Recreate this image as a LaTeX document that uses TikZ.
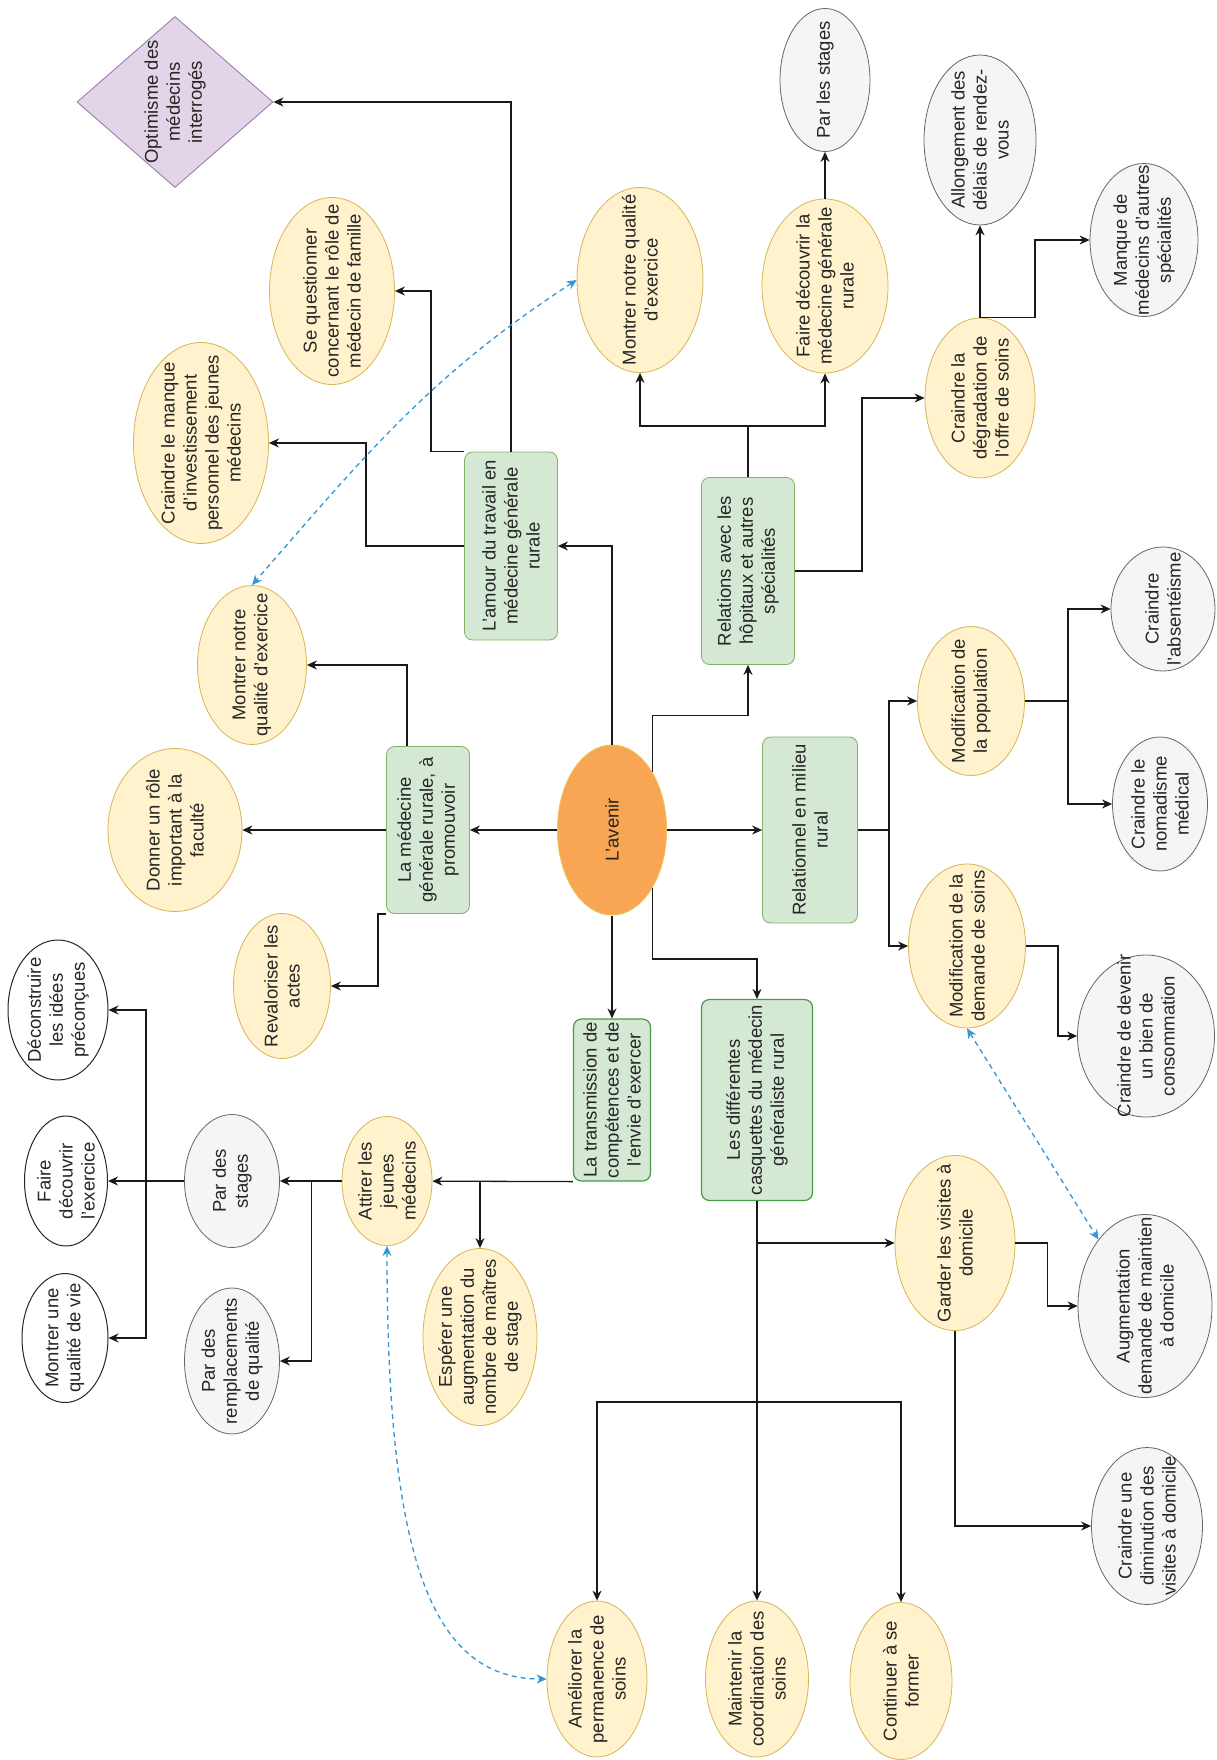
\documentclass[tikz,border=0pt]{standalone}
\usepackage{fontspec}
\setmainfont{Liberation Sans}
\usepackage{tikz}
\usetikzlibrary{shapes.geometric, arrows.meta, calc}
\definecolor{ideafill}{RGB}{255, 242, 204}
\definecolor{idealine}{RGB}{214, 182, 86}
\definecolor{fearfill}{RGB}{245, 245, 245}
\definecolor{fearline}{RGB}{102, 102, 102}
\definecolor{themefill}{RGB}{213, 232, 212}
\definecolor{themeline}{RGB}{130, 179, 102}
\definecolor{themedark}{RGB}{70, 155, 70}
\definecolor{corefill}{RGB}{249, 166, 84}
\definecolor{coreline}{RGB}{238, 190, 90}
\definecolor{moodfill}{RGB}{225, 213, 231}
\definecolor{moodline}{RGB}{150, 115, 166}
\definecolor{linkblue}{RGB}{50, 150, 215}

\begin{document}
\begin{tikzpicture}[x=1pt, y=-1pt,
    idea/.style={draw=idealine, fill=ideafill, ellipse, line width=0.8pt, inner sep=0pt},
    fear/.style={draw=fearline, fill=fearfill, ellipse, line width=0.8pt, inner sep=0pt},
    plain/.style={draw=black!85, fill=white, ellipse, line width=1pt, inner sep=0pt},
    theme/.style={draw=themeline, fill=themefill, rounded corners=8pt, line width=0.8pt, inner sep=0pt},
    themebold/.style={theme, draw=themedark, line width=1.2pt},
    lbl/.style={rotate=90, align=center, inner sep=0pt, text=black!85, font=\fontsize{18.5}{22}\selectfont},
    arr/.style={draw=black!90, line width=1.3pt, -{Stealth[length=10pt, width=9pt]}},
    link/.style={draw=linkblue, line width=1.3pt, dash pattern=on 5pt off 4pt, {Stealth[length=10pt, width=9pt]}-{Stealth[length=10pt, width=9pt]}}]
    \path[fill=white, use as bounding box] (0,0) rectangle (1217,1760);

    % Centre
    \node[draw=coreline, fill=corefill, ellipse, line width=1pt, inner sep=0pt, minimum width=109, minimum height=170] (avenir) at (612,830) {};
    \node[lbl] (avenirt) at (avenir) {L'avenir};

    % Themes
    \node[theme, minimum width=83, minimum height=167] (medecine) at (428,830) {};
    \node[lbl] (medecinet) at (medecine) {La médecine\\générale rurale, à\\promouvoir};
    \node[theme, minimum width=93, minimum height=188] (amour) at (511,546) {};
    \node[lbl] (amourt) at (amour) {L'amour du travail en\\médecine générale\\rurale};
    \node[theme, minimum width=93, minimum height=187] (relations) at (748,571) {};
    \node[lbl] (relationst) at (relations) {Relations avec les\\hôpitaux et autres\\spécialités};
    \node[theme, minimum width=95, minimum height=186] (relationnel) at (810,830) {};
    \node[lbl] (relationnelt) at (relationnel) {Relationnel en milieu\\rural};
    \node[themebold, minimum width=77, minimum height=162] (transmission) at (612,1100) {};
    \node[lbl] (transmissiont) at (transmission) {La transmission de\\compétences et de\\l'envie d'exercer};
    \node[themebold, minimum width=111, minimum height=201] (casquettes) at (757,1100) {};
    \node[lbl] (casquettest) at (casquettes) {Les différentes\\casquettes du médecin\\généraliste rural};

    % Upper left
    \node[draw=moodline, fill=moodfill, diamond, line width=0.8pt, inner sep=0pt, minimum width=196, minimum height=171] (optimisme) at (175,102) {};
    \node[lbl] (optimismet) at (optimisme) {Optimisme des\\médecins\\interrogés};
    \node[idea, minimum width=125, minimum height=187] (sequest) at (332,291) {};
    \node[lbl] (sequestt) at (sequest) {Se questionner\\concernant le rôle de\\médecin de famille};
    \node[idea, minimum width=135, minimum height=201] (manque) at (201,443) {};
    \node[lbl] (manquet) at (manque) {Craindre le manque\\d'investissement\\personnel des jeunes\\médecins};
    \node[idea, minimum width=109, minimum height=159] (qualiteA) at (252,665) {};
    \node[lbl] (qualiteAt) at (qualiteA) {Montrer notre\\qualité d'exercice};
    \node[idea, minimum width=134, minimum height=163] (donner) at (175,830) {};
    \node[lbl] (donnert) at (donner) {Donner un rôle\\important à la\\faculté};
    \node[idea, minimum width=97, minimum height=145] (revalo) at (282,986) {};
    \node[lbl] (revalot) at (revalo) {Revaloriser les\\actes};

    % Upper right
    \node[idea, minimum width=126, minimum height=185] (qualiteB) at (640,280) {};
    \node[lbl] (qualiteBt) at (qualiteB) {Montrer notre qualité\\d'exercice};
    \node[idea, minimum width=126, minimum height=174] (decouvrir) at (825,286) {};
    \node[lbl] (decouvrirt) at (decouvrir) {Faire découvrir la\\médecine générale\\rurale};
    \node[fear, minimum width=90, minimum height=143] (stages) at (825,80) {};
    \node[lbl] (stagest) at (stages) {Par les stages};
    \node[idea, minimum width=110, minimum height=160] (degradation) at (980,398) {};
    \node[lbl] (degradationt) at (degradation) {Craindre la\\dégradation de\\l'offre de soins};
    \node[fear, minimum width=112, minimum height=170] (allongement) at (980,140) {};
    \node[lbl] (allongementt) at (allongement) {Allongement des\\délais de rendez-\\vous};
    \node[fear, minimum width=108, minimum height=153] (manquemed) at (1144,240) {};
    \node[lbl] (manquemedt) at (manquemed) {Manque de\\médecins d'autres\\spécialités};

    % Right
    \node[idea, minimum width=107, minimum height=149] (population) at (971,701) {};
    \node[lbl] (populationt) at (population) {Modification de\\la population};
    \node[idea, minimum width=117, minimum height=164] (demande) at (967,946) {};
    \node[lbl] (demandet) at (demande) {Modification de la\\demande de soins};
    \node[fear, minimum width=104, minimum height=124] (absenteisme) at (1163,609) {};
    \node[lbl] (absenteismet) at (absenteisme) {Craindre\\l'absentéisme};
    \node[fear, minimum width=95, minimum height=134] (nomadisme) at (1160,804) {};
    \node[lbl] (nomadismet) at (nomadisme) {Craindre le\\nomadisme\\médical};
    \node[fear, minimum width=137, minimum height=162] (bien) at (1146,1036) {};
    \node[lbl] (bient) at (bien) {Craindre de devenir\\un bien de\\consommation};

    % Lower left
    \node[plain, minimum width=100, minimum height=140] (deconstruire) at (58,1010) {};
    \node[lbl] (deconstruiret) at (deconstruire) {Déconstruire\\les idées\\préconçues};
    \node[plain, minimum width=83, minimum height=130] (faireex) at (66,1181) {};
    \node[lbl] (faireext) at (faireex) {Faire\\découvrir\\l'exercice};
    \node[plain, minimum width=86, minimum height=129] (qualitevie) at (65,1338) {};
    \node[lbl] (qualitevient) at (qualitevie) {Montrer une\\qualité de vie};
    \node[fear, minimum width=95, minimum height=133] (parstages) at (232,1181) {};
    \node[lbl] (parstagest) at (parstages) {Par des\\stages};
    \node[fear, minimum width=95, minimum height=146] (remplacements) at (232,1361) {};
    \node[lbl] (remplacementst) at (remplacements) {Par des\\remplacements\\de qualité};
    \node[idea, minimum width=90, minimum height=129] (attirer) at (387,1181) {};
    \node[lbl] (attirert) at (attirer) {Attirer les\\jeunes\\médecins};
    \node[idea, minimum width=114, minimum height=177] (esperer) at (480,1337) {};
    \node[lbl] (esperert) at (esperer) {Espérer une\\augmentation du\\nombre de maîtres\\de stage};

    % Lower right
    \node[idea, minimum width=100, minimum height=156] (ameliorer) at (597,1679) {};
    \node[lbl] (ameliorert) at (ameliorer) {Améliorer la\\permanence de\\soins};
    \node[idea, minimum width=103, minimum height=156] (maintenir) at (757,1679) {};
    \node[lbl] (maintenirt) at (maintenir) {Maintenir la\\coordination des\\soins};
    \node[idea, minimum width=102, minimum height=157] (continuer) at (901,1681) {};
    \node[lbl] (continuert) at (continuer) {Continuer à se\\former};
    \node[idea, minimum width=120, minimum height=175] (garder) at (955,1243) {};
    \node[lbl] (gardert) at (garder) {Garder les visites à\\domicile};
    \node[fear, minimum width=134, minimum height=183] (augmentation) at (1145,1306) {};
    \node[lbl] (augmentationt) at (augmentation) {Augmentation\\demande de maintien\\à domicile};
    \node[fear, minimum width=111, minimum height=157] (diminution) at (1147,1526) {};
    \node[lbl] (diminutiont) at (diminution) {Craindre une\\diminution des\\visites à domicile};

    % From the centre
    \draw[arr] (avenir.north) |- (amour);
    \draw[arr] (avenir.west) -- (medecine.east);
    \draw[arr] (avenir.east) -- (relationnel.west);
    \draw[arr] (avenir.south) -- (transmission.north);
    \draw[arr] (avenir.55) -- ++(0,-57) -| (relations.south);
    \draw[arr] (avenir.-55) -- ++(0,71) -| (casquettes.north);

    % Love of the work
    \draw[arr] (amour.north) |- (optimisme);
    \draw[arr] (amour.north west) -- ++(-33,0) |- (sequest);
    \draw[arr] (amour.west) -- ++(-98,0) |- (manque);

    % Promoting rural practice
    \draw[arr] ($(medecine.north)+(-21,0)$) |- (qualiteA.east);
    \draw[arr] (medecine.west) -- (donner.east);
    \draw[arr] (medecine.south west) -- ++(-8,0) |- (revalo.east);

    % Hospitals and other specialities
    \draw[arr] (relations.north) -- ++(0,-51) -| (qualiteB.south);
    \draw[arr] (relations.north) -- ++(0,-51) -| (decouvrir.south);
    \draw[arr] (decouvrir.north) -- (stages.south);
    \draw[arr] (relations.east) -- ++(67,0) |- (degradation.west);
    \draw[arr] (degradation.north) -- (allongement.south);
    \draw[arr] (degradation.north) -- ++(55,0) |- (manquemed.west);

    % Rural relations
    \draw[arr] (relationnel.east) -- ++(31,0) |- (population.west);
    \draw[arr] (relationnel.east) -- ++(31,0) |- (demande.west);
    \draw[arr] (population.east) -- ++(43,0) |- (absenteisme.west);
    \draw[arr] (population.east) -- ++(43,0) |- (nomadisme.west);
    \draw[arr] (demande.east) -- ++(32,0) |- (bien.west);

    % Passing it on
    \draw[arr] (transmission.south west) -- (attirer);
    \draw[arr] (transmission.south west) -| (esperer.north);
    \draw[arr] (attirer.west) -- (parstages.east);
    \draw[arr] (attirer.west) -- ++(-30,0) |- (remplacements.east);
    \draw[arr] (parstages.west) -- ++(-38,0) |- (deconstruire.east);
    \draw[arr] (parstages.west) -- (faireex.east);
    \draw[arr] (parstages.west) -- ++(-38,0) |- (qualitevie.east);

    % The many hats
    \draw[arr] (casquettes.south) |- (garder.west);
    \draw[arr] (casquettes.south) -- (maintenir.north);
    \draw[arr] (casquettes.south) -- ++(0,201) -| (ameliorer.north);
    \draw[arr] (casquettes.south) -- ++(0,201) -| (continuer.north);
    \draw[arr] (garder.east) -- ++(32,0) |- (augmentation.west);
    \draw[arr] (garder.south) |- (diminution.west);

    % Cross links
    \draw[link] (qualiteB.west) to[out=213, in=49] (qualiteA.north);
    \draw[link] (demande.south) -- (augmentation.125);
    \draw[link] (attirer.south) .. controls +(0,300) and +(-120,0) .. (ameliorer.west);
\end{tikzpicture}
\end{document}
